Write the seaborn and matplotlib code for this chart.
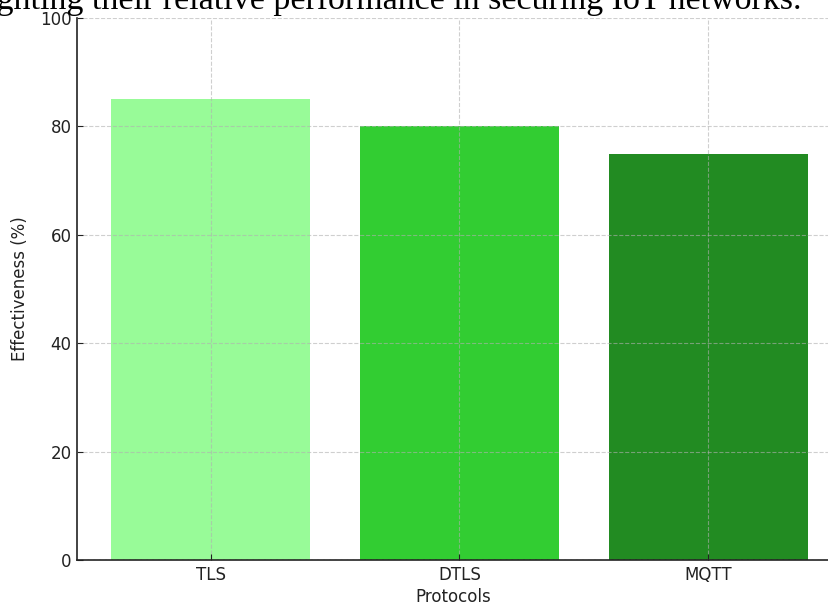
import matplotlib
matplotlib.use("Agg")
import matplotlib.pyplot as plt
import seaborn as sns
import pandas as pd

protocols = ["TLS", "DTLS", "MQTT"]
effectiveness = [85, 80, 75]
colors = ["palegreen", "limegreen", "forestgreen"]
yticks = [0, 20, 40, 60, 80, 100]
title_tail = "highlighting their relative performance in securing IoT networks."

df = pd.DataFrame({"Protocols": protocols, "Effectiveness (%)": effectiveness})

fig = plt.figure(figsize=(8.29, 6.05), dpi=100)
ax = fig.add_axes([77/829, 45/605, (829-77)/829, (560-18)/605])

sns.barplot(data=df, x="Protocols", y="Effectiveness (%)", hue="Protocols",
            palette=colors, legend=False, width=0.8, saturation=1, ax=ax)

ax.set_ylim(0, 100)
ax.set_xlim(-0.537, 2.485)
ax.set_yticks(yticks)
ax.set_axisbelow(False)
ax.grid(True, linestyle="--", color="#b0b0b0", alpha=0.6, linewidth=0.8)
ax.spines["top"].set_visible(False)
ax.spines["right"].set_visible(False)
for s in ("left", "bottom"):
    ax.spines[s].set_color("#222222")
    ax.spines[s].set_linewidth(1.2)
ax.tick_params(axis="both", labelsize=12, colors="#222222", length=4,
               direction="in", pad=4)
ax.set_xlabel("Protocols", fontsize=12, color="#222222", labelpad=3)
ax.set_ylabel("Effectiveness (%)", fontsize=12, color="#222222", labelpad=8)

fig.text(802/829, 1 - 9/605, title_tail, ha="right", va="baseline",
         fontsize=24.5, family="Liberation Serif", color="black")

fig.savefig("out.png", dpi=100)
